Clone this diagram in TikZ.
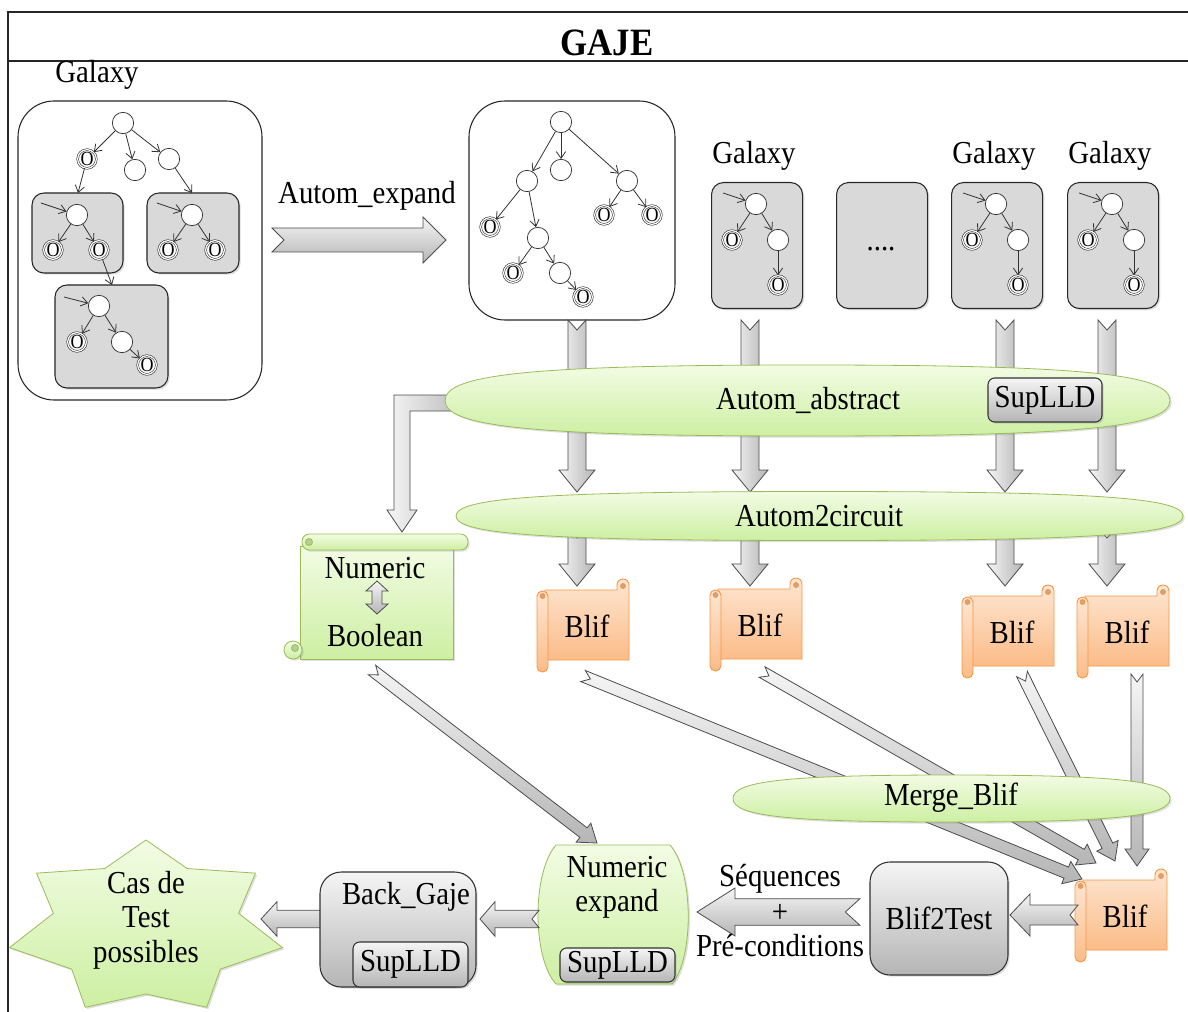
\documentclass[tikz,border=0pt]{standalone}
\usepackage{fontspec}
\setmainfont{Liberation Serif}[FakeStretch=0.9]
\usetikzlibrary{calc,arrows.meta,shapes.geometric,shadows}
\definecolor{gTop}{HTML}{F2FCE4}
\definecolor{gBot}{HTML}{CDEFA2}
\definecolor{gborder}{HTML}{9BBB59}
\definecolor{oTop}{HTML}{FEE6D2}
\definecolor{oBot}{HTML}{FBBC88}
\definecolor{oborder}{HTML}{F79646}
\definecolor{grTop}{HTML}{F5F5F5}
\definecolor{grBot}{HTML}{B5B5B5}
\definecolor{galfill}{HTML}{D9D9D9}
\newcommand\fatarr[7][]{%
  \coordinate (faH) at ($(#3)!#6!(#2)$);
  \coordinate (faN) at ($(#2)!#7!(#3)$);
  \path[fatstyle,#1] ($(#2)!#4!90:(#3)$) -- ($(faH)!#4!90:(#3)$) -- ($(faH)!#5!90:(#3)$) -- (#3) -- ($(faH)!#5!-90:(#3)$) -- ($(faH)!#4!-90:(#3)$) -- ($(#2)!#4!-90:(#3)$) -- (faN) -- cycle;
}
\newcommand\fatell[5][]{%
  \path[gshape,#1] ({#2-#4},#3) .. controls ({#2-#4},{#3-0.75*#5}) and ({#2-0.75*#4},{#3-#5}) .. (#2,{#3-#5}) .. controls ({#2+0.75*#4},{#3-#5}) and ({#2+#4},{#3-0.75*#5}) .. ({#2+#4},#3) .. controls ({#2+#4},{#3+0.75*#5}) and ({#2+0.75*#4},{#3+#5}) .. (#2,{#3+#5}) .. controls ({#2-0.75*#4},{#3+#5}) and ({#2-#4},{#3+0.75*#5}) .. cycle;
}
\tikzset{
 ta/.style={draw=black!80, line width=0.6pt, -{Straight Barb[length=5pt,width=7pt]}},
 st/.style={circle, draw=black!80, fill=white, line width=0.55pt, minimum size=16pt, inner sep=0pt},
 fin/.style={circle, draw=black!80, fill=white, line width=0.45pt, double=white, double distance=0.9pt, minimum size=13pt, inner sep=0pt, font=\fontsize{15}{15}\selectfont},
 shad/.style={drop shadow={opacity=0.25, shadow xshift=1.3pt, shadow yshift=-1.3pt}},
 galbox/.style={draw=black!85, fill=galfill, rounded corners=9pt, line width=0.8pt, inner sep=0pt, shad},
 bigbox/.style={draw=black!85, fill=white, rounded corners=27pt, line width=0.8pt, inner sep=0pt},
 fatstyle/.style={draw=black!70, line width=0.6pt, top color=grTop, bottom color=grBot, line join=miter},
 gshape/.style={draw=gborder, line width=0.6pt, top color=gTop, bottom color=gBot, shad},
 oscroll/.style={draw=oborder, line width=0.7pt, top color=oTop, bottom color=oBot},
 graybox/.style={draw=black!80, line width=0.8pt, top color=grTop, bottom color=grBot, inner sep=0pt, shad},
 supl/.style={graybox, rounded corners=5pt},
 titlef/.style={font=\fontsize{29}{30}\selectfont\bfseries},
 minigal/.pic={
  \node[galbox, minimum width=68.25pt, minimum height=94.5pt, anchor=north west] (-box) at (0,0) {};
  \node[st] (-r) at (45,22) {};
  \coordinate (-in) at (12,11);
  \node[fin] (-o1) at (21,58) {O};
  \node[st] (-c) at (67,58) {};
  \node[fin] (-o2) at (67,103) {O};
  \draw[ta] (-in) -- (-r);
  \draw[ta] (-r) -- (-o1);
  \draw[ta] (-r) -- (-c);
  \draw[ta] (-c) -- (-o2);
 },
 blif/.pic={
  \path[oscroll] (8,12) -- (80,12) -- (80,7) arc[start angle=180, end angle=360, radius=6] -- (92,82) -- (8,82) -- cycle;
  \draw[oborder, line width=0.6pt, fill=oBot!60!gray] (86,8) circle[radius=2.5];
  \path[oscroll, rounded corners=4pt] (0,13) rectangle (11,94);
  \draw[oborder, line width=0.6pt, fill=oBot!60!gray] (5.5,18) circle[radius=2.5];
  \node (-t) at (50,48) {Blif};
 },
}
\begin{document}
\begin{tikzpicture}[x=0.75pt,y=-0.75pt,font=\fontsize{24}{27}\selectfont]
\useasboundingbox (0,0) rectangle (1188,1012);
% frame
\draw[line width=1.2pt, black!85] (8,1012) -- (8,12) -- (1188,12);
\draw[line width=1pt, black!85] (8,61) -- (1188,61);
\node[titlef] (title) at (607,43) {GAJE};

% ---------- big galaxy
\node (lblG0) at (97,75) {Galaxy};
\node[bigbox, minimum width=183pt, minimum height=224.25pt] (bigG) at (140,250.5) {};
\node[galbox, minimum width=68.25pt, minimum height=60pt] (gb1) at (77.5,233) {};
\node[galbox, minimum width=69pt, minimum height=60pt] (gb2) at (193,233) {};
\node[galbox, minimum width=84.75pt, minimum height=77.25pt] (gb3) at (111.5,336.5) {};
\node[st] (r0) at (123,123) {};
\node[fin] (oa) at (87,159) {O};
\node[st] (cb) at (135,170) {};
\node[st] (cc) at (169,159) {};
\coordinate (gb1in) at (78,193);
\coordinate (gb2in) at (192,193);
\coordinate (gb3in) at (112,285);
\draw[ta] (r0) -- (oa);
\draw[ta] (r0) -- (cb);
\draw[ta] (r0) -- (cc);
\draw[ta] (oa) -- (gb1in);
\draw[ta] (cc) -- (gb2in);
% box1
\coordinate (in1) at (41,203);
\node[st] (r1) at (77,215) {};
\node[fin] (o11) at (53,250) {O};
\node[fin] (o12) at (99,250) {O};
\draw[ta] (in1) -- (r1);
\draw[ta] (r1) -- (o11);
\draw[ta] (r1) -- (o12);
\draw[ta] (o12) -- (gb3in);
% box2
\coordinate (in2) at (157,203);
\node[st] (r2) at (192,215) {};
\node[fin] (o21) at (168,250) {O};
\node[fin] (o22) at (215,250) {O};
\draw[ta] (in2) -- (r2);
\draw[ta] (r2) -- (o21);
\draw[ta] (r2) -- (o22);
% box3
\coordinate (in3) at (64,297);
\node[st] (r3) at (99,306) {};
\node[fin] (o31) at (77,342) {O};
\node[st] (c32) at (122,342) {};
\node[fin] (o33) at (147,365) {O};
\draw[ta] (in3) -- (r3);
\draw[ta] (r3) -- (o31);
\draw[ta] (r3) -- (c32);
\draw[ta] (c32) -- (o33);

% ---------- Autom_expand
\node (lblAE) at (367,196) {Autom\_expand};
\coordinate (aeT) at (272,240);
\coordinate (aeH) at (446,240);
\fatarr{aeT}{aeH}{9pt}{17.25pt}{17.25pt}{9pt}

% ---------- expanded tree
\node[bigbox, minimum width=154.5pt, minimum height=164.25pt] (expG) at (572,210.5) {};
\node[st] (er) at (561,122) {};
\node[st] (e1) at (527,181) {};
\node[st] (e2) at (561,170) {};
\node[st] (e3) at (627,181) {};
\node[fin] (eo1) at (490,227) {O};
\node[st] (e4) at (538,238) {};
\node[fin] (eo2) at (604,215) {O};
\node[fin] (eo3) at (652,215) {O};
\node[fin] (eo4) at (513,273) {O};
\node[st] (e5) at (560,273) {};
\node[fin] (eo5) at (583,297) {O};
\draw[ta] (er) -- (e1);
\draw[ta] (er) -- (e2);
\draw[ta] (er) -- (e3);
\draw[ta] (e1) -- (eo1);
\draw[ta] (e1) -- (e4);
\draw[ta] (e4) -- (eo4);
\draw[ta] (e4) -- (e5);
\draw[ta] (e5) -- (eo5);
\draw[ta] (e3) -- (eo2);
\draw[ta] (e3) -- (eo3);

% ---------- mini galaxies
\node (lblGA) at (754,156) {Galaxy};
\node (lblGB) at (994,156) {Galaxy};
\node (lblGC) at (1110,156) {Galaxy};
\pic (gA) at (711,182) {minigal};
\node[galbox, minimum width=68.25pt, minimum height=94.5pt, anchor=north west] (gD) at (836,182) {};
\node (dots) at (881,249) {....};
\pic (gB) at (951,182) {minigal};
\pic (gC) at (1067,182) {minigal};

% ---------- column arrows (upper)
\foreach \cx/\nm in {577/a,750/b,1005/c,1107/d}{
  \coordinate (up\nm T) at (\cx,320);
  \coordinate (up\nm H) at (\cx,492);
  \fatarr[left color=grTop,right color=grBot]{up\nm T}{up\nm H}{6.75pt}{13.5pt}{16.5pt}{7.5pt}
}
% L arrow to Numeric/Boolean
\coordinate (Labs) at (472,395);
\coordinate (Lend) at (402,532);
\path[fatstyle, left color=grTop, right color=grBot] (Labs) -- (394,395) -- (394,510) -- (387,510) -- (Lend) -- (417,510) -- (410,510) -- (410,411) -- (472,411);

% ---------- Autom_abstract
\fatell{807.5}{400.5}{362.5}{35.5}
\node (abs) at (808,400) {Autom\_abstract};
\node[supl, minimum width=85.5pt, minimum height=33pt] (absS) at (1045,400) {SupLLD};

% lower column arrows
\foreach \cx/\nm in {577/a,750/b,1005/c,1107/d}{
  \coordinate (lo\nm T) at (\cx,528);
  \coordinate (lo\nm H) at (\cx,586);
  \fatarr[left color=grTop,right color=grBot]{lo\nm T}{lo\nm H}{6.75pt}{13.5pt}{16.5pt}{7.5pt}
}
% ---------- Autom2circuit
\fatell{819.5}{516}{363.5}{24.5}
\node (a2c) at (819,516) {Autom2circuit};

% ---------- Numeric / Boolean scroll
\path[gshape] (300,546) rectangle (453,659);
\path[gshape] (293,650) circle[radius=9];
\draw[gborder, line width=0.6pt, fill=gBot!70!gray] (295,648) circle[radius=3.5];
\path[gshape, rounded corners=5.6pt] (302,534) rectangle (468,550);
\draw[gborder, line width=0.6pt, fill=gBot!70!gray] (309,542) circle[radius=3.5];
\node (nbN) at (375,568) {Numeric};
\node (nbB) at (375,636) {Boolean};
\path[fatstyle] (377,581) -- (388,591) -- (382,591) -- (382,604) -- (388,604) -- (377,614) -- (366,604) -- (372,604) -- (372,591) -- (366,591) -- cycle;

% ---------- Blif scrolls
\pic (b1) at (537,578) {blif};
\pic (b2) at (710,577) {blif};
\pic (b3) at (962,584) {blif};
\pic (b4) at (1077,584) {blif};

% ---------- diagonal arrows
\coordinate (nbOut) at (372,670);
\coordinate (nxIn) at (597,843);
\fatarr{nbOut}{nxIn}{4.5pt}{9pt}{12.75pt}{6pt}
\coordinate (b1o) at (583,676);
\coordinate (b1i) at (1082,879);
\fatarr{b1o}{b1i}{4.5pt}{9pt}{12.75pt}{6pt}
\coordinate (b2o) at (762,672);
\coordinate (b2i) at (1096,863);
\fatarr{b2o}{b2i}{4.5pt}{9pt}{12.75pt}{6pt}
\coordinate (b3o) at (1022,674);
\coordinate (b3i) at (1115,861);
\fatarr{b3o}{b3i}{4.5pt}{9pt}{12.75pt}{6pt}
\coordinate (b4o) at (1137,674);
\coordinate (b4i) at (1137,866);
\fatarr{b4o}{b4i}{4.5pt}{9pt}{12.75pt}{6pt}

% ---------- Merge_Blif
\fatell{951.5}{798.5}{218.5}{23.5}
\node (merge) at (951,798) {Merge\_Blif};

% ---------- bottom row
\pic (b5) at (1075,868) {blif};
\node[graybox, rounded corners=15pt, minimum width=103.5pt, minimum height=84.75pt] (b2t) at (939,918.5) {Blif2Test};
\coordinate (b5o) at (1078,915);
\coordinate (b2ti) at (1010,915);
\fatarr{b5o}{b2ti}{7.5pt}{15.75pt}{15pt}{6pt}

\coordinate (seqT) at (860,912);
\coordinate (seqH) at (697,912);
\fatarr{seqT}{seqH}{10pt}{18pt}{28.5pt}{11pt}
\node (seq1) at (780,879) {Séquences};
\node (seqp) at (780,913) {+};
\node (seq2) at (780,946) {Pré-conditions};

% Numeric expand
\path[gshape] (556,845) -- (670,845) .. controls (694,872) and (694,958) .. (672,984) -- (556,984) .. controls (532,958) and (532,872) .. (556,845) -- cycle;
\node[align=center, font=\fontsize{24}{25.5}\selectfont] (nx) at (617,887) {Numeric\\expand};
\node[supl, minimum width=86.25pt, minimum height=25.5pt] (nxS) at (617.5,965) {SupLLD};
\coordinate (nxo) at (539,919);
\coordinate (bgi) at (480,919);
\fatarr{nxo}{bgi}{6.5pt}{13pt}{11.25pt}{5.25pt}

% Back_Gaje
\coordinate (bgo) at (330,919);
\coordinate (sti) at (261,919);
\fatarr{bgo}{sti}{6.5pt}{13pt}{12pt}{5.25pt}
\node[graybox, rounded corners=16pt, minimum width=117pt, minimum height=86.25pt] (bg) at (398,929.5) {};
\node (bgT) at (406,897) {Back\_Gaje};
\node[supl, minimum width=86.25pt, minimum height=33.75pt] (bgS) at (410.5,964.5) {SupLLD};

% star
\path[gshape] plot[samples at={0,...,13}, variable=\k] ({146+(117.5+22.5*cos(180*\k))*cos(-90+\k*360/14)}, {928+(77+11*cos(180*\k))*sin(-90+\k*360/14)}) -- cycle;
\node[align=center, font=\fontsize{24}{26}\selectfont] (cas) at (146,920) {Cas de\\Test\\possibles};
\end{tikzpicture}
\end{document}
